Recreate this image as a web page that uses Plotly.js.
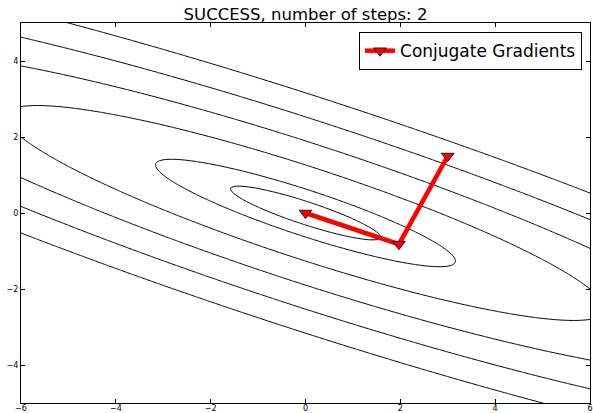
<!DOCTYPE html>
<html><head><meta charset="utf-8">
<script src="https://cdn.plot.ly/plotly-3.0.1.min.js"></script>
<style>html,body{margin:0;padding:0;background:#fff}</style>
</head><body><div id="chart" style="width:593px;height:413px"></div>
<script>
// Quadratic form f(x,y) = 0.5 * [x y] Q [x y]^T
const quadQ = [[1, 2], [2, 5]];
// contour levels of f
const levels = [0.25, 1, 4, 9, 16, 25];
// conjugate-gradient iterates
const pathX = [3, 1.97, 0];
const pathY = [1.5, -0.82, 0];
const xTicks = [-6, -4, -2, 0, 2, 4, 6];
const yTicks = [-4, -2, 0, 2, 4];
const xRange = [-6, 6];
const yRange = [-5, 5];
const seriesName = 'Conjugate Gradients';
const titleText = 'SUCCESS, number of steps: 2';

// evaluation grid for the contour traces
const nx = 261, ny = 221;
const xs = [], ys = [];
for (let i = 0; i < nx; i++) xs.push(-6.5 + 13 * i / (nx - 1));
for (let j = 0; j < ny; j++) ys.push(-5.5 + 11 * j / (ny - 1));
const z = ys.map(y => xs.map(x =>
  0.5 * (quadQ[0][0] * x * x + (quadQ[0][1] + quadQ[1][0]) * x * y + quadQ[1][1] * y * y)));

const traces = levels.map(L => ({
  type: 'contour', x: xs, y: ys, z: z,
  autocontour: false,
  contours: {start: L, end: L, size: 1, coloring: 'none', showlabels: false},
  line: {color: 'black', width: 1, smoothing: 1},
  showscale: false, showlegend: false, hoverinfo: 'skip'
}));

traces.push({
  type: 'scatter', mode: 'lines+markers', x: pathX, y: pathY,
  name: seriesName,
  line: {color: '#ff0000', width: 4.5},
  marker: {symbol: 'triangle-down', size: 11, color: '#ff0000', line: {color: 'black', width: 0.8}}
});

const axisBase = {
  showgrid: false, zeroline: false, showline: true, linecolor: 'black', linewidth: 1,
  mirror: 'ticks', ticks: 'inside', ticklen: 4, tickcolor: 'black', tickwidth: 1,
  tickfont: {family: 'DejaVu Sans', size: 8, color: 'black'}
};

const layout = {
  width: 593, height: 413,
  margin: {l: 21, r: 3, t: 23, b: 10},
  paper_bgcolor: 'white', plot_bgcolor: 'white',
  font: {family: 'DejaVu Sans', color: 'black'},
  title: {text: titleText, font: {family: 'DejaVu Sans', size: 16.5, color: 'black'},
          x: 0.5, xref: 'paper', xanchor: 'center', y: 1 - 14 / 413, yref: 'container', yanchor: 'middle'},
  xaxis: Object.assign({}, axisBase, {range: xRange, tickvals: xTicks, ticklabelstandoff: -3}),
  yaxis: Object.assign({}, axisBase, {range: yRange, tickvals: yTicks}),
  showlegend: true,
  legend: {x: 0.986, y: 0.976, xanchor: 'right', yanchor: 'top',
           bgcolor: 'white', bordercolor: 'black', borderwidth: 1,
           font: {family: 'DejaVu Sans', size: 17, color: 'black'}}
};

Plotly.newPlot('chart', traces, layout, {displayModeBar: false, staticPlot: true});
</script></body></html>
